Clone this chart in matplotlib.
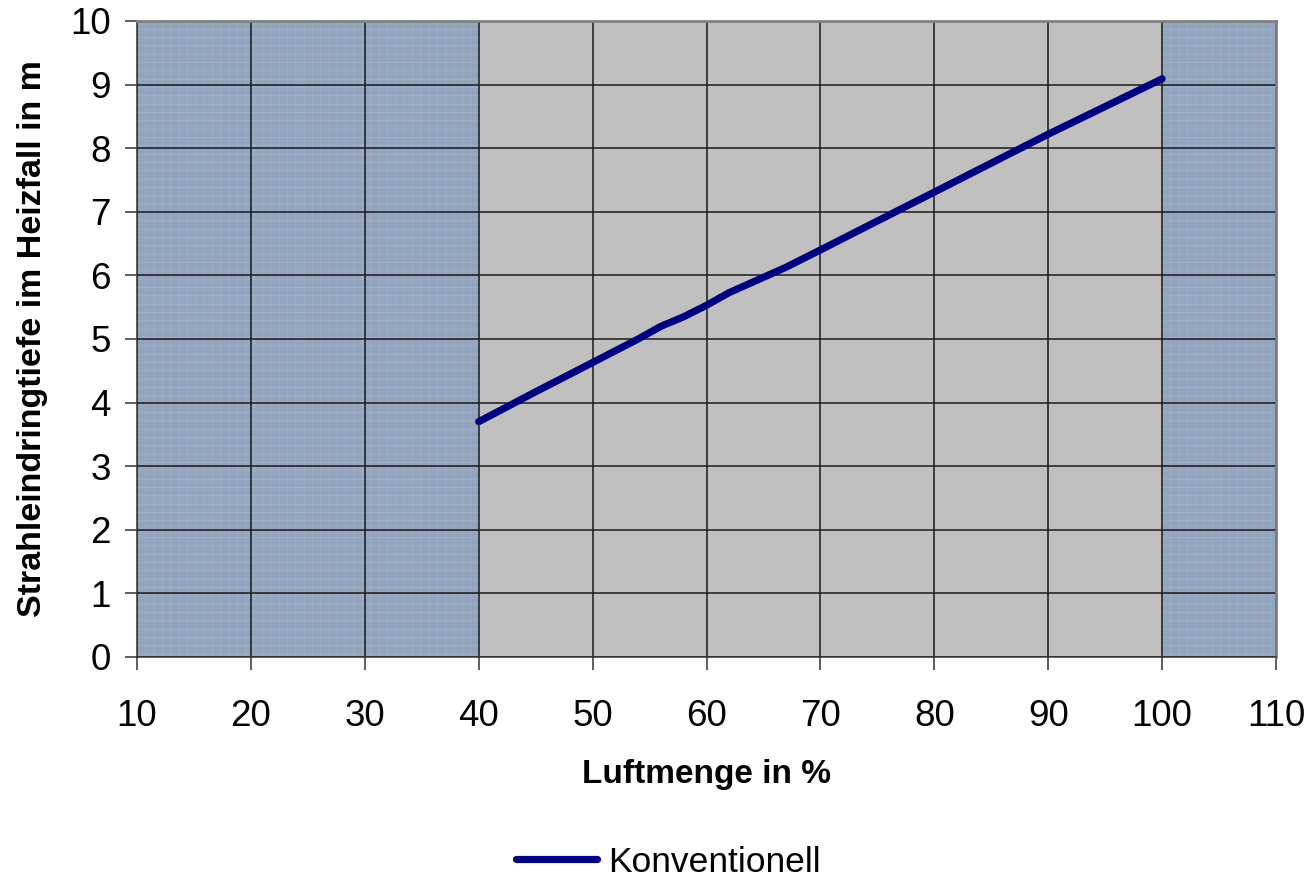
import matplotlib
matplotlib.use("Agg")
import matplotlib.pyplot as plt

plt.rcParams['font.family'] = ['Liberation Sans', 'DejaVu Sans']
plt.rcParams['hatch.linewidth'] = 0.4

# Jet penetration depth vs. air volume
luftmenge = [40, 45, 50, 54, 56, 58, 60, 62, 65, 67, 70, 80, 90, 100]
eindringtiefe = [3.70, 4.17, 4.63, 5.00, 5.20, 5.35, 5.53, 5.73, 5.97, 6.13, 6.40, 7.31, 8.22, 9.09]

x_ticks = list(range(10, 111, 10))
y_ticks = list(range(0, 11))
series_name = "Konventionell"
x_label = "Luftmenge in %"
y_label = "Strahleindringtiefe im Heizfall in m"

fig = plt.figure(figsize=(13.13, 8.84), dpi=100)
ax = fig.add_axes([137/1313, 1 - 657/884, (1276 - 137)/1313, (657 - 21)/884])

ax.set_xlim(10, 110)
ax.set_ylim(0, 10)
ax.set_facecolor('#c0c0c0')

# shaded areas outside the operating range
shade = '#93a5bf'
ax.axvspan(10, 40, facecolor=shade, edgecolor='#a9b6c9', hatch='++', linewidth=0, zorder=0.5)
ax.axvspan(100, 110, facecolor=shade, edgecolor='#a9b6c9', hatch='++', linewidth=0, zorder=0.5)

ax.set_xticks(x_ticks)
ax.set_yticks(y_ticks)
ax.grid(True, color='#1a1a1a', linewidth=1.1, zorder=1)
ax.set_axisbelow(True)

ax.plot(luftmenge, eindringtiefe, color='#000080', linewidth=5.2,
        solid_capstyle='round', label=series_name, zorder=3)

ax.tick_params(axis='both', labelsize=26.5, length=9, width=1.1, color='#333333')
ax.tick_params(axis='x', pad=21)
ax.tick_params(axis='y', pad=10)

for side in ['top', 'right']:
    ax.spines[side].set_color('#808080')
    ax.spines[side].set_linewidth(2)
for side in ['left', 'bottom']:
    ax.spines[side].set_color('#333333')
    ax.spines[side].set_linewidth(1.1)

ax.set_xlabel(x_label, fontsize=24, fontweight='bold', labelpad=18)
ax.set_ylabel(y_label, fontsize=24.5, fontweight='bold', labelpad=16)

fig.legend(loc='center', bbox_to_anchor=(668/1313, 1 - 862/884), fontsize=25.5,
           frameon=False, handlelength=2.3, handletextpad=0.3)

fig.savefig('out.png', dpi=100, facecolor='white')
